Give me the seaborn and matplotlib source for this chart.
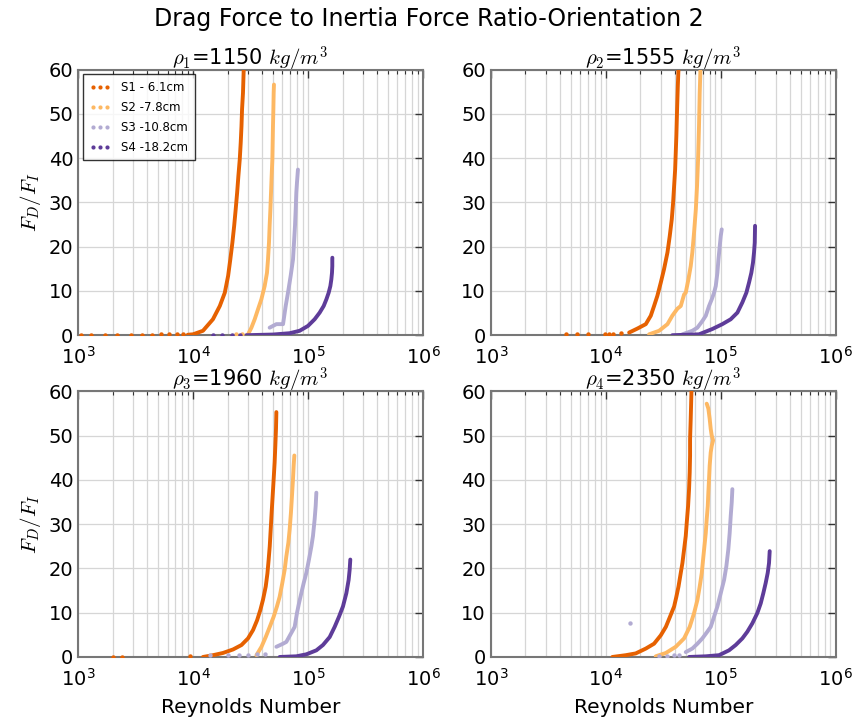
import matplotlib
matplotlib.use("Agg")
import matplotlib.pyplot as plt
import seaborn as sns
from matplotlib.lines import Line2D
from matplotlib.ticker import LogLocator, MultipleLocator

# ---- labels -------------------------------------------------------------
series_labels = ["S1 - 6.1cm", "S2 -7.8cm", "S3 -10.8cm", "S4 -18.2cm"]
series_colors = ["#e66101", "#fdb863", "#b2abd2", "#5e3c99"]
panel_titles = [r"$\rho_1$=1150 $kg/m^3$", r"$\rho_2$=1555 $kg/m^3$",
                r"$\rho_3$=1960 $kg/m^3$", r"$\rho_4$=2350 $kg/m^3$"]
suptitle = "Drag Force to Inertia Force Ratio-Orientation 2"
x_label = "Reynolds Number"
y_label = r"$F_D/F_I$"

# ---- rho_1 = 1150 ------------------------------------------------------
re_1_s1 = [9000, 10000, 12200, 14900, 17100, 18900, 20200, 21100, 22000, 22800, 23500,
           24200, 24800, 25500, 26000, 26400, 26700, 27200, 27600, 27700]
fd_1_s1 = [0.1, 0.2, 1.0, 3.6, 6.6, 9.6, 13.4, 17.1, 20.9, 24.7, 28.4,
           32.2, 35.9, 39.7, 43.5, 47.2, 51.0, 54.7, 60.0, 62.0]
re_1_s2 = [30100, 32200, 34400, 36800, 39300, 42000, 44000, 44900, 45800, 46400,
           47100, 47700, 48300, 49000, 49300, 49600, 50000, 50300, 50600]
fd_1_s2 = [0.2, 1.7, 3.6, 5.9, 8.1, 11.1, 14.1, 17.1, 20.9, 24.7,
           28.4, 32.2, 35.9, 39.7, 43.5, 47.2, 51.0, 54.7, 56.6]
re_1_s3 = [46400, 53100, 60700, 64000, 67000, 70700, 74100, 75600, 77100, 78200,
           79200, 80200, 81800]
fd_1_s3 = [1.7, 2.5, 2.5, 6.6, 9.6, 13.4, 17.1, 20.9, 24.7, 28.4,
           32.2, 34.4, 37.4]
re_1_s4 = [29100, 49600, 69300, 84700, 100000, 114300, 126400, 137000, 144600, 151400,
           156600, 159700, 161800, 162800, 162800, 163000]
fd_1_s4 = [0.0, 0.15, 0.45, 1.0, 2.1, 3.6, 5.1, 6.6, 8.1, 9.6,
           11.1, 12.6, 14.1, 15.6, 17.1, 17.5]

# ---- rho_2 = 1555 ------------------------------------------------------
re_2_s1 = [15960, 18830, 22280, 24620, 26300, 28100, 30100, 32100, 34400, 36000,
           37500, 38500, 39300, 40100, 40600, 41100, 41700, 42300, 42800, 42900]
fd_2_s1 = [0.6, 1.5, 2.5, 4.4, 6.6, 8.9, 11.9, 14.9, 18.7, 22.4,
           26.2, 29.9, 33.7, 37.4, 41.2, 45.0, 51.0, 56.2, 59.6, 62.0]
re_2_s2 = [23800, 29100, 34400, 37900, 42000, 44900, 48000, 49600, 52300, 54800,
           56600, 58600, 60700, 62200, 63500, 64700, 65600, 66500, 66600]
fd_2_s2 = [0.2, 1.0, 2.5, 4.4, 6.0, 6.6, 9.2, 9.6, 12.6, 15.6,
           18.7, 23.2, 28.4, 33.7, 39.7, 47.2, 54.7, 59.6, 62.0]
re_2_s3 = [46400, 56600, 62600, 69200, 74100, 79100, 83500, 87500, 90500, 93500,
           95500, 98000, 100000, 102000]
fd_2_s3 = [0.2, 1.0, 1.7, 3.2, 4.4, 6.6, 8.1, 9.6, 11.1, 14.1,
           17.1, 20.1, 22.4, 23.9]
re_2_s4 = [37900, 64700, 84500, 103300, 122100, 139600, 154200, 167100, 176300, 184600,
           190800, 194800, 197600, 198800]
fd_2_s4 = [0.0, 0.2, 1.4, 2.5, 3.6, 5.1, 7.4, 9.6, 11.9, 14.1,
           16.4, 18.7, 20.9, 24.7]

# ---- rho_3 = 1960 ------------------------------------------------------
re_3_s1 = [12200, 14900, 18200, 22300, 26400, 30100, 33300, 36100, 38500, 40600,
           42900, 44400, 45500, 46500, 47400, 48300, 49300, 50300, 51300, 52000,
           52700, 53100]
fd_3_s1 = [0.0, 0.4, 0.9, 1.7, 2.7, 4.2, 6.1, 8.3, 10.6, 12.9,
           15.9, 18.9, 22.0, 25.0, 28.8, 32.6, 36.4, 40.2, 44.0, 47.7,
           51.5, 55.3]
re_3_s2 = [35600, 39400, 42900, 46500, 50300, 53700, 56700, 59800, 62700, 64800,
           67500, 69300, 71100, 72600, 74100, 75100, 76100]
fd_3_s2 = [0.4, 2.3, 4.5, 6.8, 9.1, 11.4, 13.6, 16.7, 19.7, 22.7,
           25.8, 28.8, 32.6, 36.4, 40.2, 43.2, 45.5]
re_3_s3 = [53100, 60700, 64800, 76600, 80200, 83500, 87500, 91800, 96800, 102000,
           107100, 110500, 114300, 116700, 118300]
fd_3_s3 = [2.3, 3.0, 3.4, 6.8, 9.9, 12.1, 14.4, 16.7, 19.0, 22.0,
           25.0, 27.3, 31.1, 34.1, 37.1]
re_3_s4 = [56700, 79200, 96800, 118300, 135000, 154500, 170700, 186200, 201500, 215700,
           225800, 230500, 233500]
fd_3_s4 = [0.0, 0.15, 0.6, 1.5, 2.7, 4.5, 6.8, 9.1, 11.4, 14.4,
           17.4, 19.7, 22.0]

# ---- rho_4 = 2350 ------------------------------------------------------
re_4_s1 = [11400, 14900, 18200, 22300, 26300, 30100, 33300, 36200, 39300, 41100,
           42900, 44900, 46400, 48000, 49600, 50600, 52000, 53000, 53700, 54100,
           54100, 54800, 55600, 55700]
fd_4_s1 = [0.0, 0.4, 0.8, 1.9, 3.0, 4.9, 6.8, 9.1, 11.4, 13.6,
           15.9, 19.0, 21.2, 24.3, 27.3, 30.3, 34.1, 37.9, 41.7, 45.5,
           49.2, 53.8, 59.9, 62.0]
re_4_s2 = [27200, 33300, 40600, 48000, 53700, 58600, 62700, 65600, 68400, 70200,
           72100, 74100, 75500, 77100, 78000, 79100, 80100, 81800, 83500, 85800,
           83500, 81800, 80100, 78000, 75500]
fd_4_s2 = [0.15, 0.9, 2.3, 4.2, 6.8, 9.9, 12.9, 15.9, 19.0, 22.0,
           25.0, 28.0, 31.1, 34.1, 37.1, 40.2, 43.2, 46.2, 47.7, 48.9,
           50.0, 51.5, 53.8, 56.1, 57.2]
re_4_s3 = [49600, 56600, 62700, 69200, 76400, 81800, 87500, 93500, 100000, 106900,
           111900, 116400, 119600, 122100, 124600, 126200]
fd_4_s3 = [1.1, 1.9, 3.0, 4.2, 5.7, 6.8, 9.1, 11.4, 14.4, 17.4,
           20.5, 24.3, 28.0, 31.8, 34.9, 37.9]
re_4_s4 = [53000, 74100, 96600, 118000, 134900, 154200, 170300, 188400, 208000, 222700,
           234600, 246000, 256300, 263000, 266600]
fd_4_s4 = [0.0, 0.15, 0.4, 1.5, 2.7, 4.2, 5.7, 7.6, 9.9, 12.1,
           14.4, 16.7, 19.0, 21.2, 23.9]

# loose low-Re points lying along the zero line and isolated readings
loose_re_1_s1 = [1050, 1300, 1700, 2200, 2900, 3600, 4400, 5300, 6200, 7200, 8100]
loose_fd_1_s1 = [0.1, 0.1, 0.1, 0.1, 0.1, 0.1, 0.1, 0.2, 0.2, 0.2, 0.3]
loose_re_1_s2 = [23800, 26500]
loose_fd_1_s2 = [0.2, 0.3]
loose_re_1_s4 = [14900, 18000, 22000, 25500]
loose_fd_1_s4 = [0.1, 0.1, 0.1, 0.1]
loose_re_2_s1 = [4500, 5600, 7000, 9800, 10600, 11500, 13600]
loose_fd_2_s1 = [0.2, 0.2, 0.2, 0.3, 0.3, 0.3, 0.4]
loose_re_3_s1 = [2000, 2400, 9500]
loose_fd_3_s1 = [0.1, 0.1, 0.2]
loose_re_3_s3 = [14000, 20000, 25000, 30000, 36000, 42000]
loose_fd_3_s3 = [0.5, 0.5, 0.5, 0.5, 0.6, 0.7]
loose_re_4_s3 = [16200, 29000, 34000, 39000, 43000]
loose_fd_4_s3 = [7.6, 0.3, 0.3, 0.4, 0.5]

curves = [
    [(re_1_s1, fd_1_s1), (re_1_s2, fd_1_s2), (re_1_s3, fd_1_s3), (re_1_s4, fd_1_s4)],
    [(re_2_s1, fd_2_s1), (re_2_s2, fd_2_s2), (re_2_s3, fd_2_s3), (re_2_s4, fd_2_s4)],
    [(re_3_s1, fd_3_s1), (re_3_s2, fd_3_s2), (re_3_s3, fd_3_s3), (re_3_s4, fd_3_s4)],
    [(re_4_s1, fd_4_s1), (re_4_s2, fd_4_s2), (re_4_s3, fd_4_s3), (re_4_s4, fd_4_s4)],
]
loose = [
    [(0, loose_re_1_s1, loose_fd_1_s1), (1, loose_re_1_s2, loose_fd_1_s2),
     (3, loose_re_1_s4, loose_fd_1_s4)],
    [(0, loose_re_2_s1, loose_fd_2_s1)],
    [(0, loose_re_3_s1, loose_fd_3_s1), (2, loose_re_3_s3, loose_fd_3_s3)],
    [(2, loose_re_4_s3, loose_fd_4_s3)],
]

# ---- style --------------------------------------------------------------
sns.set_style("white")
plt.rcParams["font.family"] = ["DejaVu Sans"]
plt.rcParams["mathtext.fontset"] = "cm"
plt.rcParams["text.color"] = "black"
plt.rcParams["axes.labelcolor"] = "black"

fig, axes = plt.subplots(2, 2, figsize=(8.58, 7.21), dpi=100)
fig.subplots_adjust(left=0.091, right=0.974, top=0.9036, bottom=0.0888,
                    wspace=0.197, hspace=0.211)

for k, ax in enumerate(axes.flat):
    for s, (xs, ys) in enumerate(curves[k]):
        sns.lineplot(x=xs, y=ys, sort=False, estimator=None, ax=ax,
                     color=series_colors[s], linewidth=2.8,
                     solid_capstyle="round", solid_joinstyle="round", zorder=3)
    for s, xs, ys in loose[k]:
        sns.scatterplot(x=xs, y=ys, ax=ax, color=series_colors[s], s=10,
                        linewidth=0, zorder=3)

    ax.set_xscale("log")
    ax.set_xlim(1e3, 1e6)
    ax.set_ylim(0, 60)
    ax.yaxis.set_major_locator(MultipleLocator(10))
    ax.xaxis.set_major_locator(LogLocator(base=10))
    ax.xaxis.set_minor_locator(LogLocator(base=10, subs=range(2, 10)))
    ax.grid(True, which="major", color="#d6d6d6", linewidth=0.9)
    ax.grid(True, which="minor", axis="x", color="#d6d6d6", linewidth=0.9)
    ax.set_axisbelow(True)
    ax.tick_params(which="both", direction="in", top=True, right=True,
                   colors="#333333", labelcolor="black", labelsize=14)
    ax.tick_params(which="major", length=6, width=1)
    ax.tick_params(which="minor", length=3, width=0.8)
    ax.tick_params(axis="x", which="major", pad=8)
    for sp in ax.spines.values():
        sp.set_color("#777777")
        sp.set_linewidth(1.5)
    ax.set_title(panel_titles[k], fontsize=15, pad=3)
    if k % 2 == 0:
        ax.set_ylabel(y_label, fontsize=15, labelpad=4)
    if k >= 2:
        ax.set_xlabel(x_label, fontsize=14.5, labelpad=6)

handles = [Line2D([], [], linestyle="", marker="o", markersize=3,
                  markeredgewidth=0, color=c) for c in series_colors]
leg = axes[0, 0].legend(handles, series_labels, loc="upper left", numpoints=3,
                        fontsize=8.5, frameon=True, fancybox=False,
                        borderpad=0.55, handlelength=1.8, handletextpad=0.9,
                        labelspacing=0.6, borderaxespad=0.4)
leg.get_frame().set_edgecolor("black")
leg.get_frame().set_linewidth(1.0)

fig.suptitle(suptitle, fontsize=17, y=0.99)
fig.savefig("out.png", dpi=100)
